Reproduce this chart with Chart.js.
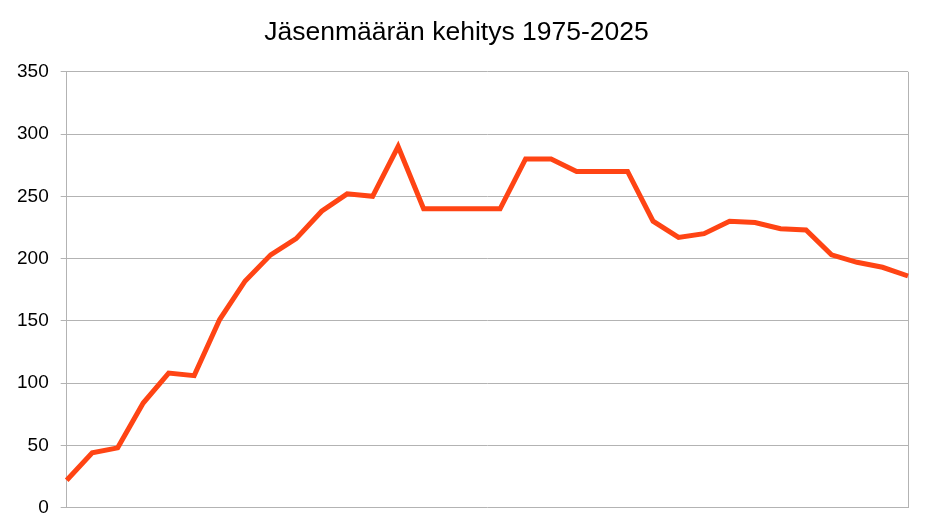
<!DOCTYPE html>
<html>
<head>
<meta charset="utf-8">
<script src="https://cdn.jsdelivr.net/npm/chart.js@4"></script>
<style>
  html, body { margin: 0; padding: 0; background: #fff; }
  #wrap { width: 931px; height: 531px; }
</style>
</head>
<body>
<div id="wrap"><canvas id="chart" width="931" height="531"></canvas></div>
<script>
const chartTitle = "Jäsenmäärän kehitys 1975-2025";

// 34 data points, x labels are not shown in the picture
const points = [
  "1", "2", "3", "4", "5", "6", "7", "8", "9", "10",
  "11", "12", "13", "14", "15", "16", "17", "18", "19", "20",
  "21", "22", "23", "24", "25", "26", "27", "28", "29", "30",
  "31", "32", "33", "34",
];

const members = [
  22, 44, 48, 84, 108, 106, 151, 182, 203, 216,
  238, 252, 250, 290, 240, 240, 240, 240, 280, 280,
  270, 270, 270, 230, 217, 220, 230, 229, 224, 223,
  203, 197, 193, 186,
];

const yTicks = [0, 50, 100, 150, 200, 250, 300, 350];

const gridGray = "#b3b3b3";
const lastIndex = points.length - 1;

new Chart(document.getElementById("chart"), {
  type: "line",
  data: {
    labels: points,
    datasets: [
      {
        data: members,
        borderColor: "#ff4414",
        borderWidth: 5,
        pointRadius: 0,
        tension: 0,
        fill: false,
      },
    ],
  },
  options: {
    responsive: false,
    animation: false,
    layout: { padding: { left: 5, right: 23, top: 0, bottom: 23 } },
    plugins: {
      legend: { display: false },
      tooltip: { enabled: false },
      title: {
        display: true,
        text: chartTitle,
        color: "#000",
        font: { family: "Liberation Sans, Arial, sans-serif", size: 26.5, weight: "normal" },
        padding: { top: 17, bottom: 23 },
      },
    },
    scales: {
      x: {
        offset: false,
        ticks: { display: false },
        border: { display: false },
        grid: {
          drawTicks: false,
          color: (ctx) => (ctx.index === lastIndex ? gridGray : "rgba(0,0,0,0)"),
          lineWidth: 1,
        },
      },
      y: {
        min: 0,
        max: 350,
        afterBuildTicks: (axis) => {
          axis.ticks = yTicks.map((v) => ({ value: v }));
        },
        ticks: {
          color: "#000",
          padding: 12,
          font: { family: "Liberation Sans, Arial, sans-serif", size: 19 },
        },
        border: { display: true, color: gridGray, width: 1 },
        grid: { color: gridGray, lineWidth: 1, tickLength: 6 },
      },
    },
  },
});
</script>
</body>
</html>
